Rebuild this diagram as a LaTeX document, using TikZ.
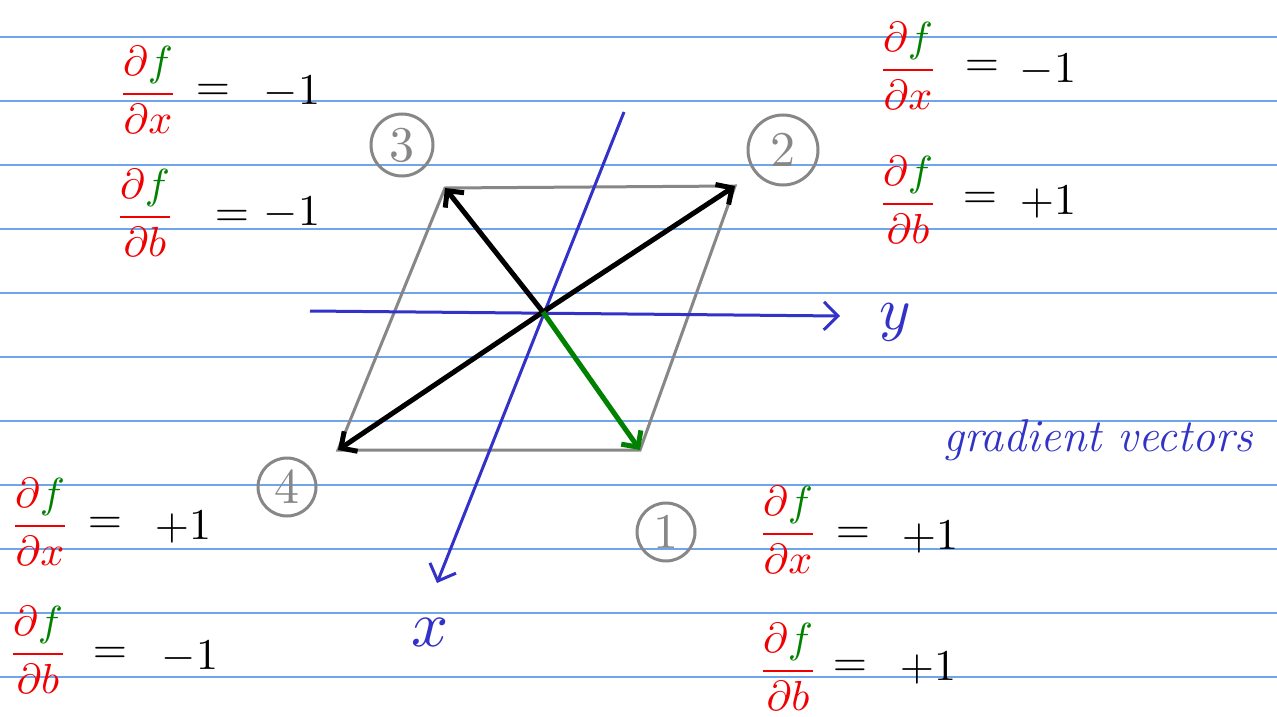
\documentclass[tikz,border=0pt]{standalone}
\usetikzlibrary{arrows.meta}
\definecolor{rule}{RGB}{110,165,235}
\definecolor{axisblue}{RGB}{50,50,200}
\definecolor{fgreen}{RGB}{0,130,0}
\definecolor{fred}{RGB}{240,0,0}
\definecolor{pgray}{RGB}{135,135,135}
\tikzset{
  ruleline/.style={rule, line width=1.3pt},
  axis/.style={axisblue, line width=3pt, -{Straight Barb[length=14pt,width=28pt,line width=3pt]}},
  vec/.style={line width=5pt, -{Straight Barb[length=12pt,width=24pt,line width=5pt]}},
  edge/.style={pgray, line width=3pt},
  num/.style={circle, draw=pgray, line width=3pt, text=pgray, inner sep=0pt},
  frac/.style={text=fred, inner sep=0pt, scale=4.2},
  eq/.style={inner sep=0pt, scale=4.4},
  lbl/.style={text=axisblue, inner sep=0pt}
}
\newcommand{\dfx}{$\displaystyle\frac{\partial{\color{fgreen}f}}{\partial x}$}
\newcommand{\dfb}{$\displaystyle\frac{\partial{\color{fgreen}f}}{\partial b}$}
\newcommand{\bignum}[1]{\scalebox{5}{#1}}
\begin{document}
\begin{tikzpicture}[x=1pt,y=-1pt]
\useasboundingbox[fill=white] (0,0) rectangle (1277,717);
% ruled lines
\foreach \k in {0,...,10} {
  \draw[ruleline] (0,{37+64*\k}) -- (1277,{37+64*\k});
}
% parallelogram corners and centre
\coordinate (O) at (543,312);
\coordinate (v3) at (445,188);
\coordinate (v2) at (735,186);
\coordinate (v1) at (640,450);
\coordinate (v4) at (338,450);
\draw[edge] (v3) -- (v2) -- (v1) -- (v4) -- cycle;
% axes
\coordinate (xs) at (624,112);
\coordinate (xe) at (437,583);
\coordinate (ys) at (310,311);
\coordinate (ye) at (840,316);
\draw[axis] (xs) -- (xe);
\draw[axis] (ys) -- (ye);
\node[lbl, scale=6] (ylab) at (895,322) {$y$};
\node[lbl, scale=6.5] (xlab) at (430,632) {$x$};
% gradient vectors
\draw[vec] (O) -- (v3);
\draw[vec] (O) -- (v2);
\draw[vec] (O) -- (v4);
\draw[vec, fgreen] (O) -- (v1);
% circled numbers
\node[num, minimum size=62pt] (n3) at (402,145) {\bignum{3}};
\node[num, minimum size=70pt] (n2) at (783,150) {\bignum{2}};
\node[num, minimum size=58pt] (n4) at (287,487) {\bignum{4}};
\node[num, minimum size=58pt] (n1) at (666,532) {\bignum{1}};
% label
\node[lbl, font=\fontsize{46}{50}\selectfont\itshape] (gv) at (1098,440) {gradient vectors};
% top left
\node[frac] (f1) at (148,90) {\dfx};
\node[eq] (e1) at (213,92) {$=$};
\node[eq] (r1) at (292,92) {$-1$};
\node[frac] (f2) at (145,213) {\dfb};
\node[eq] (e2) at (232,218) {$=$};
\node[eq] (r2) at (292,213) {$-1$};
% top right
\node[frac] (f3) at (908,66) {\dfx};
\node[eq] (e3) at (982,68) {$=$};
\node[eq] (r3) at (1048,70) {$-1$};
\node[frac] (f4) at (908,200) {\dfb};
\node[eq] (e4) at (980,200) {$=$};
\node[eq] (r4) at (1048,202) {$+1$};
% bottom left
\node[frac] (f5) at (40,522) {\dfx};
\node[eq] (e5) at (105,525) {$=$};
\node[eq] (r5) at (183,527) {$+1$};
\node[frac] (f6) at (38,650) {\dfb};
\node[eq] (e6) at (110,655) {$=$};
\node[eq] (r6) at (190,657) {$-1$};
% bottom right
\node[frac] (f7) at (788,530) {\dfx};
\node[eq] (e7) at (853,535) {$=$};
\node[eq] (r7) at (930,537) {$+1$};
\node[frac] (f8) at (788,667) {\dfb};
\node[eq] (e8) at (850,668) {$=$};
\node[eq] (r8) at (928,668) {$+1$};
\end{tikzpicture}
\end{document}
